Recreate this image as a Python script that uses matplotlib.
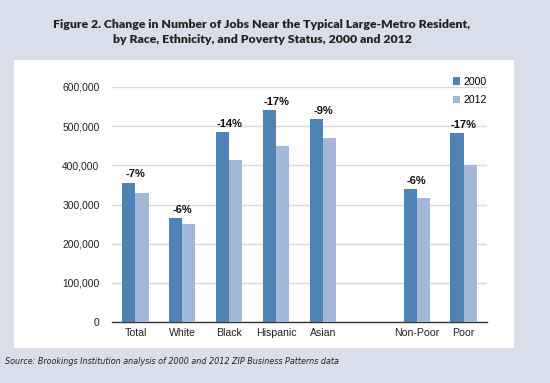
import matplotlib
matplotlib.use("Agg")
import matplotlib.pyplot as plt
from matplotlib.patches import Rectangle
import numpy as np

categories = ["Total", "White", "Black", "Hispanic", "Asian", "Non-Poor", "Poor"]
positions = [0, 1, 2, 3, 4, 6, 7]
jobs_2000 = [355000, 265000, 485000, 541000, 518000, 339000, 482000]
jobs_2012 = [329000, 250000, 413000, 449000, 470000, 316000, 400000]
changes = ["-7%", "-6%", "-14%", "-17%", "-9%", "-6%", "-17%"]
yticks = [0, 100000, 200000, 300000, 400000, 500000, 600000]

bg = "#d8deea"
c2000 = "#4f83b6"
c2012 = "#a3b8d9"
tickfont = "Liberation Sans"

fig = plt.figure(figsize=(5.5, 3.83), dpi=100, facecolor=bg)
W, H = 550, 383

# white panel
fig.patches.append(Rectangle((14 / W, 1 - 348 / H), 500 / W, 288 / H,
                             transform=fig.transFigure, facecolor="white",
                             edgecolor="none", zorder=-5))

fig.text(262 / W, 1 - 32 / H,
         "Figure 2. Change in Number of Jobs Near the Typical Large-Metro Resident,\nby Race, Ethnicity, and Poverty Status, 2000 and 2012",
         ha="center", va="center", fontsize=8.8, fontweight="heavy",
         family="Lato", color="#222222", linespacing=1.5)

ax = fig.add_axes([112 / W, 1 - 322 / H, (487 - 112) / W, (322 - 87) / H])
ax.set_zorder(2)
ax.patch.set_alpha(0)

x = np.array(positions, dtype=float)
w = 0.28
ax.bar(x - w / 2, jobs_2000, width=w, color=c2000, label="2000", zorder=3)
ax.bar(x + w / 2, jobs_2012, width=w, color=c2012, label="2012", zorder=3)

for xi, v, t in zip(x, jobs_2000, changes):
    ax.text(xi, v + 9000, t, ha="center", va="bottom", fontsize=8,
            fontweight="bold", family=tickfont, color="#111111")

ax.set_xlim(-0.5, 7.5)
ax.set_ylim(0, 600000)
ax.set_yticks(yticks)
ax.set_yticklabels([f"{v:,}" for v in yticks], fontsize=7.4, color="#222222",
                   family=tickfont)
ax.set_xticks(x)
ax.set_xticklabels(categories, fontsize=7.6, color="#222222", family=tickfont)
ax.tick_params(axis="both", length=0, pad=4)
ax.tick_params(axis="y", pad=9)
ax.yaxis.grid(True, color="#d9d9d9", linewidth=1, zorder=0)
ax.set_axisbelow(True)
for s in ["top", "right", "left"]:
    ax.spines[s].set_visible(False)
ax.spines["bottom"].set_color("#333333")
ax.spines["bottom"].set_linewidth(1)

ax.legend(loc="upper right", bbox_to_anchor=(1.025, 1.085), frameon=False,
          prop={"family": tickfont, "size": 7.6}, handlelength=0.7,
          handleheight=0.7, handletextpad=0.3, labelspacing=0.8)

fig.text(5 / W, 1 - 361 / H,
         "Source: Brookings Institution analysis of 2000 and 2012 ZIP Business Patterns data",
         ha="left", va="center", fontsize=5.75, style="italic", color="#222222")

fig.savefig("out.png", dpi=100, facecolor=bg)
